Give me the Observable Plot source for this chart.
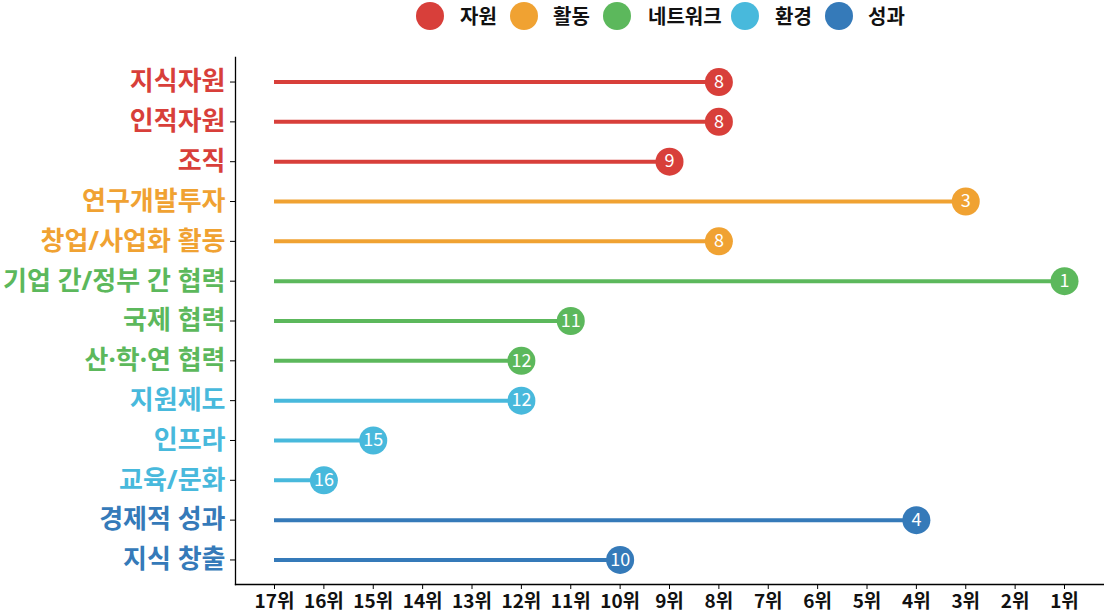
<!DOCTYPE html>
<html>
<head>
<meta charset="utf-8">
<script src="https://cdn.jsdelivr.net/npm/d3@7"></script>
<script src="https://cdn.jsdelivr.net/npm/@observablehq/plot@0.6"></script>
<style>
  html, body { margin: 0; padding: 0; background: #fff; }
  body { width: 1104px; height: 612px; overflow: hidden; font-family: "Noto Sans CJK KR", "Noto Sans", sans-serif; }
  #legend { position: relative; height: 30px; width: 1104px; }
  .sw { position: absolute; top: 2px; width: 28px; height: 28px; border-radius: 50%; }
  .lb { position: absolute; top: 2px; font-size: 20px; font-weight: 700; color: #111; line-height: 28px; }
  svg { display: block; }
</style>
</head>
<body>
<div id="legend"></div>
<div id="chart"></div>
<script>
const groups = ["자원", "활동", "네트워크", "환경", "성과"];
const groupColors = ["#d83f3a", "#f0a232", "#5cb85c", "#48b9dc", "#357ab9"];

const names = ["지식자원", "인적자원", "조직", "연구개발투자", "창업/사업화 활동", "기업 간/정부 간 협력", "국제 협력", "산·학·연 협력", "지원제도", "인프라", "교육/문화", "경제적 성과", "지식 창출"];
const nameGroups = ["자원", "자원", "자원", "활동", "활동", "네트워크", "네트워크", "네트워크", "환경", "환경", "환경", "성과", "성과"];
const ranks = [8, 8, 9, 3, 8, 1, 11, 12, 12, 15, 16, 4, 10];
const rankTicks = [17, 16, 15, 14, 13, 12, 11, 10, 9, 8, 7, 6, 5, 4, 3, 2, 1];
const tickLabel = r => r + "위";

const data = names.map((n, i) => ({name: n, group: nameGroups[i], rank: ranks[i]}));

// legend
const legendPos = [[416, 460], [510, 553], [603, 648], [731, 775], [825, 868]];
const legend = document.getElementById("legend");
groups.forEach((g, i) => {
  const s = document.createElement("div");
  s.className = "sw";
  s.style.left = legendPos[i][0] + "px";
  s.style.background = groupColors[i];
  legend.appendChild(s);
  const t = document.createElement("div");
  t.className = "lb";
  t.style.left = legendPos[i][1] + "px";
  t.textContent = g;
  legend.appendChild(t);
});

const chart = Plot.plot({
  width: 1104,
  height: 582,
  marginLeft: 235,
  marginRight: 0,
  marginTop: 27,
  marginBottom: 28,
  style: {fontFamily: "'Noto Sans CJK KR', sans-serif", background: "#fff", overflow: "visible"},
  x: {domain: [17.79, 0.19], label: null},
  y: {domain: names, type: "point", padding: 0.616, round: false, label: null},
  color: {domain: groups, range: groupColors},
  marks: [
    Plot.frame({anchor: "left", stroke: "#000", strokeWidth: 1.3}),
    Plot.frame({anchor: "bottom", stroke: "#000", strokeWidth: 1.3}),
    Plot.axisX({ticks: rankTicks, tickFormat: tickLabel, tickSize: 5, tickPadding: 5, fontSize: 19, fontWeight: 600, fill: "#111", label: null}),
    Plot.axisY({tickSize: 5, tickFormat: () => "", label: null}),
    Plot.text(data, {y: "name", text: "name", frameAnchor: "left", textAnchor: "end", dx: -10, fill: "group", fontSize: 26, fontWeight: 700, fontFamily: "'Noto Sans', 'Noto Sans CJK KR', sans-serif"}),
    Plot.ruleY(data, {y: "name", x1: 17, x2: "rank", stroke: "group", strokeWidth: 4}),
    Plot.dot(data, {y: "name", x: "rank", r: 14, fill: "group", stroke: "none"}),
    Plot.text(data, {y: "name", x: "rank", text: d => String(d.rank), fill: "#fff", fontSize: 18, fontWeight: 400})
  ]
});
document.getElementById("chart").appendChild(chart);
</script>
</body>
</html>
